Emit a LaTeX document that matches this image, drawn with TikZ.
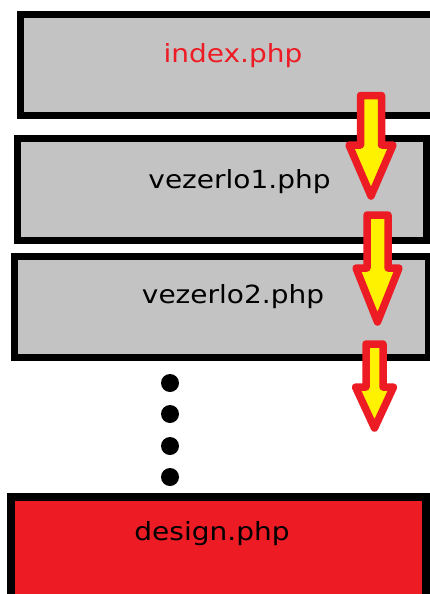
\documentclass[tikz,border=0pt]{standalone}
\usepackage{fontspec}
\newfontfamily\lblfont[FakeStretch=1.12]{DejaVu Sans}
\definecolor{boxgray}{HTML}{C3C3C3}
\definecolor{boxred}{HTML}{ED1C24}
\definecolor{arrred}{HTML}{ED1C24}
\definecolor{arryel}{HTML}{FFF200}
\newcommand\yarrow[6]{%
  \filldraw[arrowshape] (#1-#5,#2) -- (#1+#5,#2) -- (#1+#5,#3) -- (#1+#6,#3)
    -- (#1,#4) -- (#1-#6,#3) -- (#1-#5,#3) -- cycle;}
\begin{document}
\begin{tikzpicture}[x=1pt,y=-1pt,
  filebox/.style={draw=black, line width=7pt, fill=boxgray, rectangle, inner sep=0pt},
  lbl/.style={font=\lblfont\fontsize{25}{28}\selectfont, anchor=base, inner sep=0pt},
  arrowshape/.style={draw=arrred, fill=arryel, line width=7.5pt, line join=round},
  dot/.style={circle, fill=black, minimum size=18pt, inner sep=0pt}]
\useasboundingbox (0,0) rectangle (430,594);
\clip (0,0) rectangle (430,594);
\fill[white] (0,0) rectangle (430,594);
% boxes
\node[filebox, minimum width=419.5pt, minimum height=101pt] (index) at (230.25,65) {};
\node[filebox, minimum width=409pt, minimum height=102pt] (vez1) at (222,189.5) {};
\node[filebox, minimum width=413.5pt, minimum height=101pt] (vez2) at (221.25,307) {};
\node[filebox, fill=boxred, line width=8pt, minimum width=415pt, minimum height=113pt] (design) at (218,553.5) {};
% labels
\node[lbl, text=boxred] (tindex) at (233,63) {index.php};
\node[lbl] (tvez1) at (239.5,188) {vezerlo1.php};
\node[lbl] (tvez2) at (233,303) {vezerlo2.php};
\node[lbl] (tdesign) at (212,540) {design.php};
% dots
\node[dot] (d1) at (170,383) {};
\node[dot] (d2) at (170,414) {};
\node[dot] (d3) at (170,446) {};
\node[dot] (d4) at (170,477) {};
% arrows
\yarrow{371}{95.5}{145}{196}{10.5}{22}
\yarrow{377.5}{215}{268}{322}{10.5}{21.5}
\yarrow{374.5}{344}{387}{428}{8.5}{19}
\end{tikzpicture}
\end{document}
